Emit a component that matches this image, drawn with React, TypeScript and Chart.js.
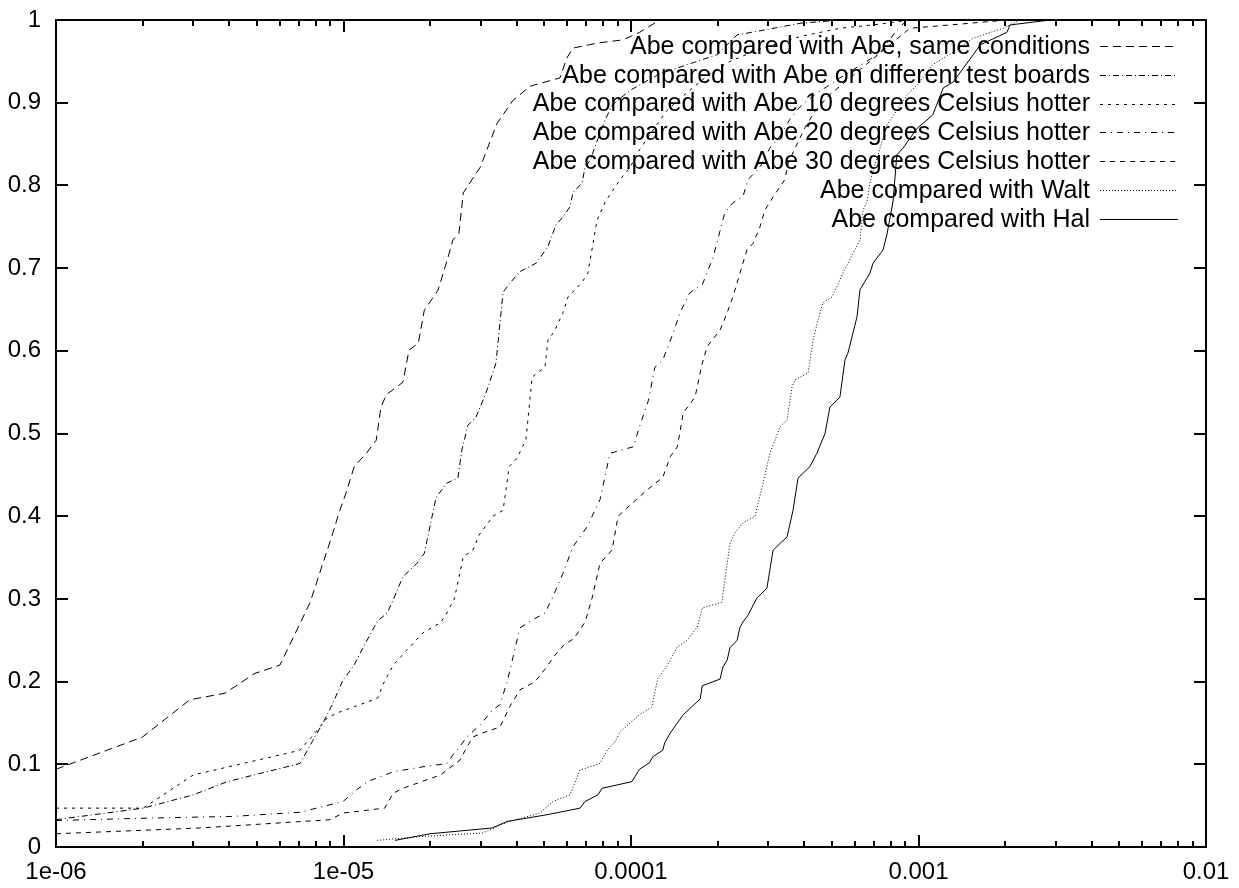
import React, { useEffect, useRef } from 'react';
import { Chart, registerables } from 'chart.js';

Chart.register(...registerables);

const seriesLabels = [
  'Abe compared with Abe, same conditions',
  'Abe compared with Abe on different test boards',
  'Abe compared with Abe 10 degrees Celsius hotter',
  'Abe compared with Abe 20 degrees Celsius hotter',
  'Abe compared with Abe 30 degrees Celsius hotter',
  'Abe compared with Walt',
  'Abe compared with Hal',
];

const sameConditions: [number, number][] = [
  [1.0e-6, 0.094], [2.0e-6, 0.133], [2.92e-6, 0.178], [3.87e-6, 0.186], [4.92e-6, 0.21], [6.01e-6, 0.22],
  [7.64e-6, 0.295], [8.48e-6, 0.343], [9.19e-6, 0.38], [9.64e-6, 0.404], [1.02e-5, 0.428], [1.09e-5, 0.46],
  [1.2e-5, 0.476], [1.3e-5, 0.492], [1.35e-5, 0.532], [1.41e-5, 0.547], [1.61e-5, 0.562], [1.69e-5, 0.601],
  [1.82e-5, 0.609], [1.91e-5, 0.649], [2.13e-5, 0.673], [2.31e-5, 0.713], [2.4e-5, 0.734], [2.52e-5, 0.742],
  [2.61e-5, 0.791], [2.99e-5, 0.822], [3.42e-5, 0.875], [3.89e-5, 0.903], [4.46e-5, 0.92], [5.66e-5, 0.93],
  [5.98e-5, 0.954], [6.28e-5, 0.966], [7.62e-5, 0.972], [9.38e-5, 0.976], [1.07e-4, 0.985], [1.26e-4, 1.0],
];

const differentBoards: [number, number][] = [
  [1e-6, 0.033], [2.01e-6, 0.047], [3.0e-6, 0.063], [3.94e-6, 0.079], [7.06e-6, 0.101], [7.83e-6, 0.129],
  [8.48e-6, 0.15], [9.19e-6, 0.174], [9.96e-6, 0.202], [1.08e-5, 0.218], [1.17e-5, 0.241], [1.26e-5, 0.262],
  [1.32e-5, 0.274], [1.42e-5, 0.283], [1.49e-5, 0.299], [1.61e-5, 0.327], [1.8e-5, 0.343], [1.91e-5, 0.355],
  [2.1e-5, 0.423], [2.29e-5, 0.44], [2.5e-5, 0.446], [2.58e-5, 0.48], [2.71e-5, 0.51], [2.89e-5, 0.52],
  [3.13e-5, 0.549], [3.39e-5, 0.585], [3.59e-5, 0.671], [4.07e-5, 0.695], [4.68e-5, 0.706], [5.14e-5, 0.726],
  [5.48e-5, 0.752], [5.8e-5, 0.762], [6.13e-5, 0.774], [6.28e-5, 0.791], [6.76e-5, 0.803], [6.92e-5, 0.822],
  [7.2e-5, 0.83], [7.8e-5, 0.863], [8.13e-5, 0.879], [8.59e-5, 0.897], [9.93e-5, 0.915], [1.26e-4, 0.935],
  [1.57e-4, 0.946], [1.99e-4, 0.958], [2.34e-4, 0.982], [2.92e-4, 0.988], [3.87e-4, 0.996], [5.33e-4, 1.0],
];

const hotter10: [number, number][] = [
  [1e-6, 0.047], [2.01e-6, 0.047], [3.0e-6, 0.087], [7.06e-6, 0.117], [7.83e-6, 0.135], [8.77e-6, 0.156],
  [9.49e-6, 0.162], [1.27e-5, 0.178], [1.32e-5, 0.181], [1.37e-5, 0.196], [1.49e-5, 0.22], [1.66e-5, 0.238],
  [1.89e-5, 0.259], [2.17e-5, 0.271], [2.29e-5, 0.283], [2.43e-5, 0.3], [2.61e-5, 0.351], [2.82e-5, 0.359],
  [2.96e-5, 0.377], [3.31e-5, 0.4], [3.59e-5, 0.407], [3.77e-5, 0.46], [4.01e-5, 0.47], [4.21e-5, 0.485],
  [4.31e-5, 0.492], [4.53e-5, 0.568], [4.71e-5, 0.573], [5.02e-5, 0.58], [5.14e-5, 0.613], [5.4e-5, 0.623],
  [5.8e-5, 0.646], [6.04e-5, 0.665], [6.76e-5, 0.683], [7.08e-5, 0.694], [7.62e-5, 0.758], [8.13e-5, 0.78],
  [9.16e-5, 0.807], [9.93e-5, 0.822], [1.07e-4, 0.843], [1.21e-4, 0.87], [1.33e-4, 0.89], [1.48e-4, 0.905],
  [1.6e-4, 0.915], [1.88e-4, 0.935], [2.21e-4, 0.95], [2.81e-4, 0.965], [3.87e-4, 0.98], [5.33e-4, 0.99],
  [7.35e-4, 0.995], [9.33e-4, 1.0],
];

const hotter20: [number, number][] = [
  [1e-6, 0.032], [2.12e-6, 0.035], [4.13e-6, 0.037], [7.06e-6, 0.042], [9.96e-6, 0.055], [1.11e-5, 0.069],
  [1.21e-5, 0.079], [1.49e-5, 0.091], [1.89e-5, 0.097], [2.29e-5, 0.101], [2.4e-5, 0.111], [2.69e-5, 0.133],
  [2.99e-5, 0.148], [3.31e-5, 0.166], [3.5e-5, 0.172], [3.71e-5, 0.2], [3.89e-5, 0.23], [4.11e-5, 0.265],
  [4.56e-5, 0.275], [5.02e-5, 0.283], [5.31e-5, 0.3], [5.8e-5, 0.331], [6.28e-5, 0.363], [7.03e-5, 0.387],
  [7.8e-5, 0.42], [8.45e-5, 0.476], [1.02e-4, 0.484], [1.07e-4, 0.508], [1.15e-4, 0.54], [1.21e-4, 0.58],
  [1.29e-4, 0.589], [1.4e-4, 0.621], [1.48e-4, 0.646], [1.6e-4, 0.67], [1.77e-4, 0.68], [1.93e-4, 0.713],
  [2.12e-4, 0.767], [2.26e-4, 0.779], [2.45e-4, 0.786], [2.55e-4, 0.807], [2.81e-4, 0.822], [3.04e-4, 0.845],
  [3.3e-4, 0.86], [3.57e-4, 0.88], [3.87e-4, 0.895], [4.37e-4, 0.91], [5.33e-4, 0.93], [6.26e-4, 0.945],
  [7.35e-4, 0.96], [8.28e-4, 0.985], [9.12e-4, 1.0],
];

const hotter30: [number, number][] = [
  [1e-6, 0.016], [3.17e-6, 0.023], [8.97e-6, 0.033], [9.96e-6, 0.041], [1.39e-5, 0.047], [1.49e-5, 0.065],
  [1.61e-5, 0.071], [2.17e-5, 0.087], [2.29e-5, 0.093], [2.54e-5, 0.105], [2.69e-5, 0.121], [2.82e-5, 0.133],
  [3.05e-5, 0.138], [3.5e-5, 0.145], [3.79e-5, 0.17], [4.11e-5, 0.19], [4.64e-5, 0.2], [5.02e-5, 0.215],
  [5.44e-5, 0.232], [5.87e-5, 0.245], [6.33e-5, 0.252], [6.92e-5, 0.272], [7.31e-5, 0.3], [7.8e-5, 0.343],
  [8.59e-5, 0.359], [9.02e-5, 0.4], [9.68e-5, 0.41], [1.14e-4, 0.432], [1.29e-4, 0.447], [1.37e-4, 0.472],
  [1.45e-4, 0.484], [1.52e-4, 0.525], [1.67e-4, 0.544], [1.77e-4, 0.585], [1.84e-4, 0.605], [2.04e-4, 0.625],
  [2.16e-4, 0.646], [2.26e-4, 0.665], [2.53e-4, 0.722], [2.66e-4, 0.73], [2.81e-4, 0.75], [2.92e-4, 0.77],
  [3.12e-4, 0.786], [3.43e-4, 0.807], [3.52e-4, 0.827], [3.72e-4, 0.845], [4.03e-4, 0.87], [4.37e-4, 0.89],
  [4.92e-4, 0.91], [5.78e-4, 0.93], [6.78e-4, 0.95], [7.96e-4, 0.97], [9.33e-4, 0.99], [1.39e-3, 0.995],
  [2.03e-3, 1.0],
];

const walt: [number, number][] = [
  [1.31e-5, 0.008], [1.75e-5, 0.012], [3.05e-5, 0.017], [3.71e-5, 0.03], [4.82e-5, 0.041], [5.35e-5, 0.055],
  [6.13e-5, 0.063], [6.65e-5, 0.093], [7.8e-5, 0.101], [8.26e-5, 0.117], [8.79e-5, 0.127], [9.16e-5, 0.139],
  [9.93e-5, 0.15], [1.07e-4, 0.16], [1.18e-4, 0.169], [1.24e-4, 0.204], [1.33e-4, 0.218], [1.45e-4, 0.242],
  [1.57e-4, 0.25], [1.7e-4, 0.266], [1.77e-4, 0.289], [2.07e-4, 0.296], [2.12e-4, 0.323], [2.21e-4, 0.367],
  [2.3e-4, 0.38], [2.45e-4, 0.392], [2.7e-4, 0.4], [2.88e-4, 0.44], [3.04e-4, 0.476], [3.3e-4, 0.508],
  [3.49e-4, 0.516], [3.63e-4, 0.556], [3.72e-4, 0.565], [4.13e-4, 0.573], [4.3e-4, 0.613], [4.47e-4, 0.637],
  [4.65e-4, 0.658], [5.0e-4, 0.665], [5.46e-4, 0.694], [5.92e-4, 0.718], [6.26e-4, 0.734], [6.41e-4, 0.77],
  [6.62e-4, 0.78], [6.78e-4, 0.804], [7.35e-4, 0.845], [7.77e-4, 0.873], [9.12e-4, 0.909], [1.01e-3, 0.925],
  [1.12e-3, 0.946], [1.32e-3, 0.961], [1.55e-3, 0.978], [1.97e-3, 0.99], [2.25e-3, 1.0],
];

const hal: [number, number][] = [
  [1.51e-5, 0.008], [2.0e-5, 0.016], [3.29e-5, 0.023], [3.71e-5, 0.031], [5.1e-5, 0.039], [6.65e-5, 0.047],
  [6.92e-5, 0.055], [7.67e-5, 0.063], [7.93e-5, 0.071], [1.007e-4, 0.079], [1.07e-4, 0.094], [1.16e-4, 0.102],
  [1.19e-4, 0.109], [1.29e-4, 0.117], [1.31e-4, 0.126], [1.37e-4, 0.138], [1.45e-4, 0.15], [1.52e-4, 0.16],
  [1.74e-4, 0.179], [1.77e-4, 0.195], [2.04e-4, 0.203], [2.09e-4, 0.218], [2.16e-4, 0.226], [2.21e-4, 0.241],
  [2.34e-4, 0.25], [2.39e-4, 0.265], [2.45e-4, 0.272], [2.55e-4, 0.28], [2.74e-4, 0.301], [2.97e-4, 0.313],
  [3.12e-4, 0.359], [3.49e-4, 0.375], [3.66e-4, 0.407], [3.81e-4, 0.446], [4.19e-4, 0.46], [4.43e-4, 0.476],
  [4.73e-4, 0.5], [4.92e-4, 0.532], [5.33e-4, 0.544], [5.55e-4, 0.589], [5.68e-4, 0.597], [6.11e-4, 0.641],
  [6.26e-4, 0.674], [6.78e-4, 0.694], [6.95e-4, 0.706], [7.53e-4, 0.722], [7.77e-4, 0.741], [8.15e-4, 0.78],
  [8.41e-4, 0.837], [8.83e-4, 0.845], [9.89e-4, 0.869], [1.12e-3, 0.885], [1.22e-3, 0.918], [1.32e-3, 0.925],
  [1.55e-3, 0.958], [1.64e-3, 0.97], [2.03e-3, 0.985], [2.08e-3, 0.994], [2.87e-3, 1.0],
];

const seriesData = [sameConditions, differentBoards, hotter10, hotter20, hotter30, walt, hal];
const seriesDashes: number[][] = [[8, 5], [6, 3, 1, 3], [3, 5], [6, 5, 1, 5], [5, 5], [1, 2], []];

const xTickValues = [1e-6, 1e-5, 1e-4, 1e-3, 1e-2];
const xTickLabels = ['1e-06', '1e-05', '0.0001', '0.001', '0.01'];
const yTickValues = [0, 0.1, 0.2, 0.3, 0.4, 0.5, 0.6, 0.7, 0.8, 0.9, 1];
const yTickLabels = ['0', '0.1', '0.2', '0.3', '0.4', '0.5', '0.6', '0.7', '0.8', '0.9', '1'];
const minorMultipliers = [2, 3, 4, 5, 6, 7, 8, 9];

const FONT = "'Liberation Sans', Arial, Helvetica, sans-serif";

const legendPlugin = {
  id: 'gnuLegend',
  afterDatasetsDraw(chart: any) {
    const { ctx, chartArea } = chart;
    const textRight = chartArea.right - 116;
    const sampleL = chartArea.right - 106;
    const sampleR = chartArea.right - 28;
    ctx.save();
    ctx.font = `25px ${FONT}`;
    ctx.textAlign = 'right';
    ctx.textBaseline = 'middle';
    chart.data.datasets.forEach((ds: any, i: number) => {
      const y = chartArea.top + 26 + i * 28.8;
      ctx.fillStyle = '#000';
      ctx.fillText(ds.label, textRight, y + 1);
      ctx.beginPath();
      ctx.setLineDash(ds.borderDash || []);
      ctx.strokeStyle = '#000';
      ctx.lineWidth = 1;
      ctx.moveTo(sampleL, Math.round(y) + 0.5);
      ctx.lineTo(sampleR, Math.round(y) + 0.5);
      ctx.stroke();
    });
    ctx.restore();
  },
};

const framePlugin = {
  id: 'gnuFrame',
  afterDraw(chart: any) {
    const { ctx, chartArea } = chart;
    const { left, right, top, bottom } = chartArea;
    const xs = chart.scales.x;
    const ys = chart.scales.y;
    ctx.save();
    ctx.setLineDash([]);
    ctx.strokeStyle = '#000';
    ctx.lineWidth = 2;
    const seg = (x1: number, y1: number, x2: number, y2: number) => {
      ctx.beginPath();
      ctx.moveTo(x1, y1);
      ctx.lineTo(x2, y2);
      ctx.stroke();
    };
    xTickValues.forEach((v, i) => {
      const px = Math.round(xs.getPixelForValue(v));
      seg(px, bottom, px, bottom - 12);
      seg(px, top, px, top + 12);
      if (i < xTickValues.length - 1) {
        minorMultipliers.forEach((m) => {
          const mp = Math.round(xs.getPixelForValue(v * m));
          seg(mp, bottom, mp, bottom - 6);
          seg(mp, top, mp, top + 6);
        });
      }
    });
    yTickValues.forEach((v) => {
      const py = Math.round(ys.getPixelForValue(v));
      seg(left, py, left + 12, py);
      seg(right, py, right - 12, py);
    });
    ctx.strokeRect(left, top, right - left, bottom - top);
    ctx.restore();
  },
};

export default function App() {
  const canvasRef = useRef<HTMLCanvasElement | null>(null);

  useEffect(() => {
    if (!canvasRef.current) return;
    const datasets = seriesData.map((pts, i) => ({
      label: seriesLabels[i],
      data: pts.map(([x, y]) => ({ x, y })),
      showLine: true,
      borderColor: '#000',
      borderWidth: 1,
      borderDash: seriesDashes[i],
      pointRadius: 0,
      tension: 0,
      fill: false,
    }));
    const chart = new Chart(canvasRef.current, {
      type: 'scatter',
      data: { datasets },
      options: {
        animation: false,
        responsive: false,
        devicePixelRatio: 1,
        layout: { padding: { top: 20, right: 33, left: 0, bottom: 0 } },
        plugins: { legend: { display: false }, tooltip: { enabled: false } },
        events: [],
        scales: {
          x: {
            type: 'logarithmic',
            min: 1e-6,
            max: 1e-2,
            afterBuildTicks: (scale: any) => {
              scale.ticks = xTickValues.map((v) => ({ value: v }));
            },
            afterFit: (scale: any) => {
              scale.height = 41;
              scale.paddingLeft = 0;
              scale.paddingRight = 0;
            },
            grid: { display: false, drawTicks: false },
            border: { display: false },
            ticks: {
              autoSkip: false,
              maxRotation: 0,
              padding: 11,
              color: '#000',
              font: { family: FONT, size: 24 },
              callback: (_v: any, i: number) => xTickLabels[i],
            },
          },
          y: {
            type: 'linear',
            min: 0,
            max: 1,
            afterBuildTicks: (scale: any) => {
              scale.ticks = yTickValues.map((v) => ({ value: v }));
            },
            afterFit: (scale: any) => {
              scale.width = 56;
              scale.paddingTop = 0;
              scale.paddingBottom = 0;
            },
            grid: { display: false, drawTicks: false },
            border: { display: false },
            ticks: {
              autoSkip: false,
              padding: 15,
              color: '#000',
              font: { family: FONT, size: 24 },
              callback: (_v: any, i: number) => yTickLabels[i],
            },
          },
        },
      },
      plugins: [legendPlugin, framePlugin],
    });
    return () => chart.destroy();
  }, []);

  return (
    <div style={{ position: 'absolute', left: 0, top: 0, width: 1239, height: 888, background: '#fff' }}>
      <canvas ref={canvasRef} width={1239} height={888} style={{ display: 'block' }} />
    </div>
  );
}
